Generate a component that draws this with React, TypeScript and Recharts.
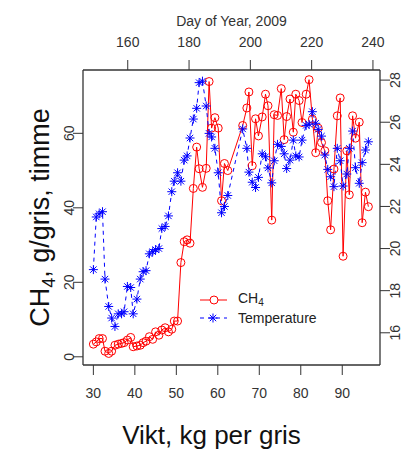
import { LineChart, Line, XAxis, YAxis, Legend } from 'recharts'

const FONT = '"Liberation Sans", Arial, sans-serif'

// vikt (kg per gris) for each measurement
const vikt = [
  30.0, 30.7, 31.4, 32.2, 32.8, 33.7, 34.4, 35.2, 36.0, 36.8, 37.4, 38.2, 39.0, 39.6, 40.5, 41.3,
  42.0, 42.7, 43.5, 44.3, 45.0, 45.8, 46.5, 47.3, 48.1, 48.9, 49.5, 50.3, 51.1, 51.9, 52.6, 53.3,
  54.1, 54.9, 55.5, 56.3, 57.2, 57.9, 58.5, 59.3, 60.1, 60.9, 61.6, 62.4,
  66.0, 67.0, 67.5, 68.3, 69.1, 69.8, 70.7, 71.5, 72.1, 73.0, 73.6, 74.4,
  75.3, 76.0, 76.6, 77.4, 78.2, 78.8, 79.6, 80.3, 81.3, 82.0, 82.8, 83.6, 84.2, 85.0, 85.8, 86.5,
  87.2, 88.0, 88.8, 89.5, 90.2, 91.1, 91.7, 92.5, 93.2, 94.1, 94.8, 95.6, 96.3,
]

const ch4 = [
  3.4, 4.0, 4.9, 4.9, 1.5, 0.9, 1.5, 3.1, 3.4, 3.6, 3.8, 4.5, 5.2, 2.7, 2.9, 3.1,
  3.8, 4.2, 5.4, 4.7, 6.7, 5.8, 7.2, 7.8, 6.7, 7.4, 9.6, 9.6, 25.3, 30.9, 31.4, 30.5,
  45.2, 56.3, 50.5, 45.5, 50.6, 73.9, 61.4, 64.2, 61.4, 41.9, 51.9, 50.0,
  62.1, 66.8, 71.1, 51.3, 63.9, 59.3, 64.4, 70.5, 67.4, 36.7, 65.0, 64.8,
  72.0, 58.3, 64.5, 69.2, 60.3, 70.5, 68.8, 62.9, 70.5, 74.4, 63.8, 54.8, 61.4, 57.5, 55.3, 41.9,
  34.1, 50.4, 64.7, 69.5, 27.0, 55.3, 43.5, 64.7, 58.7, 63.0, 36.0, 44.2, 40.3,
]

const temperatur = [
  19.0, 21.5, 21.65, 21.75, 18.55, 17.25, 16.7, 16.3, 16.9, 16.9, 17.0, 18.2, 18.15, 16.9, 17.6, 18.55,
  18.9, 18.95, 19.75, 19.85, 19.95, 20.0, 20.95, 21.05, 21.55, 22.7, 23.2, 23.6, 23.2, 24.2, 24.4, 25.25,
  26.15, 26.66, 27.88, 27.95, 26.77, 25.47, 25.3, 24.76, 23.6, 21.7, 22.0, 22.52,
  25.68, 24.76, 23.63, 23.15, 22.9, 23.38, 24.5, 24.36, 23.83, 23.12, 24.17, 24.95,
  24.85, 24.5, 23.8, 24.2, 25.15, 24.4, 24.35, 25.15, 25.85, 25.9, 26.5, 25.95, 25.66, 25.34, 24.44, 23.76,
  23.41, 22.94, 24.76, 24.17, 22.97, 23.54, 24.76, 25.58, 23.84, 23.1, 24.08, 24.68, 25.07,
]

const viktTicks = [30, 40, 50, 60, 70, 80, 90]
const dagTicks = [160, 180, 200, 220, 240]
const ch4Ticks = [0, 20, 40, 60]
const tempTicks = [16, 18, 20, 22, 24, 26, 28]

const data = vikt.map((v, i) => ({ vikt: v, ch4: ch4[i], temp: temperatur[i] }))

const AXIS = '#333'

function BottomTick({ x, y, payload }: any) {
  return (
    <text x={x} y={y + 21} textAnchor="middle" fontSize={14} fill="#333" fontFamily={FONT}>
      {payload.value}
    </text>
  )
}

function TopTick({ x, y, payload }: any) {
  return (
    <text x={x} y={y - 11} textAnchor="middle" fontSize={14} fill="#333" fontFamily={FONT}>
      {payload.value}
    </text>
  )
}

// y labels are turned, like R's las=0
function LeftTick({ x, y, payload }: any) {
  const tx = x + 3
  return (
    <text x={tx} y={y} transform={`rotate(-90, ${tx}, ${y})`} textAnchor="middle" fontSize={14} fill="#333" fontFamily={FONT}>
      {payload.value}
    </text>
  )
}

function RightTick({ x, y, payload }: any) {
  const tx = x + 8
  return (
    <text x={tx} y={y} transform={`rotate(-90, ${tx}, ${y})`} textAnchor="middle" fontSize={14} fill="#333" fontFamily={FONT}>
      {payload.value}
    </text>
  )
}

function CircleDot({ cx, cy, index }: any) {
  if (cx == null || cy == null) return <g key={`c-${index}`} />
  return <circle key={`c-${index}`} cx={cx} cy={cy} r={4} fill="none" stroke="#ff0000" strokeWidth={1} />
}

function StarDot({ cx, cy, index }: any) {
  if (cx == null || cy == null) return <g key={`s-${index}`} />
  const r = 4.5
  const d = r * 0.71
  return (
    <g key={`s-${index}`} stroke="#0000ff" strokeWidth={1}>
      <line x1={cx - r} y1={cy} x2={cx + r} y2={cy} />
      <line x1={cx} y1={cy - r} x2={cx} y2={cy + r} />
      <line x1={cx - d} y1={cy - d} x2={cx + d} y2={cy + d} />
      <line x1={cx - d} y1={cy + d} x2={cx + d} y2={cy - d} />
    </g>
  )
}

function renderLegend() {
  const row = { display: 'flex', alignItems: 'center', height: 18 }
  return (
    <div style={{ fontFamily: FONT, fontSize: 14, color: '#222', lineHeight: '18px' }}>
      <div style={row}>
        <svg width={30} height={18} style={{ marginRight: 9 }}>
          <line x1={1} y1={9} x2={28} y2={9} stroke="#ff0000" strokeWidth={1} />
          <circle cx={15} cy={9} r={4} fill="#fff" stroke="#ff0000" strokeWidth={1} />
        </svg>
        <span>
          CH<span style={{ fontSize: 10, verticalAlign: -3 }}>4</span>
        </span>
      </div>
      <div style={row}>
        <svg width={30} height={18} style={{ marginRight: 9 }}>
          <line x1={1} y1={9} x2={28} y2={9} stroke="#0000ff" strokeWidth={1} strokeDasharray="4 4" />
          <g stroke="#0000ff" strokeWidth={1}>
            <line x1={9.5} y1={9} x2={18.5} y2={9} />
            <line x1={14} y1={4.5} x2={14} y2={13.5} />
            <line x1={10.8} y1={5.8} x2={17.2} y2={12.2} />
            <line x1={10.8} y1={12.2} x2={17.2} y2={5.8} />
          </g>
        </svg>
        <span>Temperature</span>
      </div>
    </div>
  )
}

export default function App() {
  return (
    <div style={{ position: 'absolute', left: 0, top: 0, background: '#fff' }}>
      <LineChart width={415} height={452} data={data} margin={{ top: 0, right: 0, bottom: 0, left: 0 }}>
        <XAxis
          xAxisId="vikt"
          dataKey="vikt"
          type="number"
          domain={[27.5, 99.1]}
          allowDataOverflow
          ticks={viktTicks}
          height={87}
          tickSize={10}
          tickMargin={2}
          tick={<BottomTick />}
          axisLine={{ stroke: AXIS, strokeWidth: 1.3 }}
          tickLine={{ stroke: AXIS }}
          label={{
            content: ({ viewBox }: any) => (
              <text
                x={viewBox.x + viewBox.width / 2 - 20}
                y={viewBox.y + 79}
                textAnchor="middle"
                fontSize={26}
                fill="#111"
                fontFamily={FONT}
              >
                Vikt, kg per gris
              </text>
            ),
          }}
        />
        {/* day-of-year axis carries no series; dataKey only so the fixed domain is used */}
        <XAxis
          xAxisId="dag"
          dataKey="vikt"
          orientation="top"
          type="number"
          domain={[145.4, 242.3]}
          allowDataOverflow
          ticks={dagTicks}
          height={70}
          tickSize={10}
          tickMargin={2}
          tick={<TopTick />}
          axisLine={{ stroke: AXIS, strokeWidth: 1.3 }}
          tickLine={{ stroke: AXIS }}
          label={{
            content: ({ viewBox }: any) => (
              <text
                x={viewBox.x + viewBox.width / 2}
                y={viewBox.y + 26}
                textAnchor="middle"
                fontSize={14}
                fill="#333"
                fontFamily={FONT}
              >
                Day of Year, 2009
              </text>
            ),
          }}
        />
        <YAxis
          yAxisId="ch4"
          type="number"
          domain={[-2.2, 77]}
          allowDataOverflow
          ticks={ch4Ticks}
          width={83}
          tickSize={10}
          tickMargin={2}
          tick={<LeftTick />}
          axisLine={{ stroke: AXIS, strokeWidth: 1.3 }}
          tickLine={{ stroke: AXIS }}
          label={{
            content: ({ viewBox }: any) => {
              const lx = 49
              const ly = viewBox.y + viewBox.height / 2
              return (
                <text
                  x={lx}
                  y={ly}
                  transform={`rotate(-90, ${lx}, ${ly})`}
                  textAnchor="middle"
                  fontSize={27}
                  fill="#111"
                  fontFamily={FONT}
                >
                  CH<tspan fontSize={18} dy={6}>4</tspan>
                  <tspan dy={-6}>, g/gris, timme</tspan>
                </text>
              )
            },
          }}
        />
        <YAxis
          yAxisId="temp"
          orientation="right"
          type="number"
          domain={[14.47, 28.48]}
          allowDataOverflow
          ticks={tempTicks}
          width={35}
          tickSize={10}
          tickMargin={2}
          tick={<RightTick />}
          axisLine={{ stroke: AXIS, strokeWidth: 1.3 }}
          tickLine={{ stroke: AXIS }}
        />
        <Legend
          layout="horizontal"
          verticalAlign="middle"
          align="center"
          wrapperStyle={{ left: 199, top: 291, width: 140 }}
          content={renderLegend}
        />
        <Line
          xAxisId="vikt"
          yAxisId="ch4"
          dataKey="ch4"
          type="linear"
          stroke="#ff0000"
          strokeWidth={1}
          dot={(p: any) => <CircleDot key={`c-${p.index}`} {...p} />}
          activeDot={false}
          isAnimationActive={false}
        />
        <Line
          xAxisId="vikt"
          yAxisId="temp"
          dataKey="temp"
          type="linear"
          stroke="#0000ff"
          strokeWidth={1}
          strokeDasharray="4 4"
          dot={(p: any) => <StarDot key={`s-${p.index}`} {...p} />}
          activeDot={false}
          isAnimationActive={false}
        />
      </LineChart>
    </div>
  )
}
